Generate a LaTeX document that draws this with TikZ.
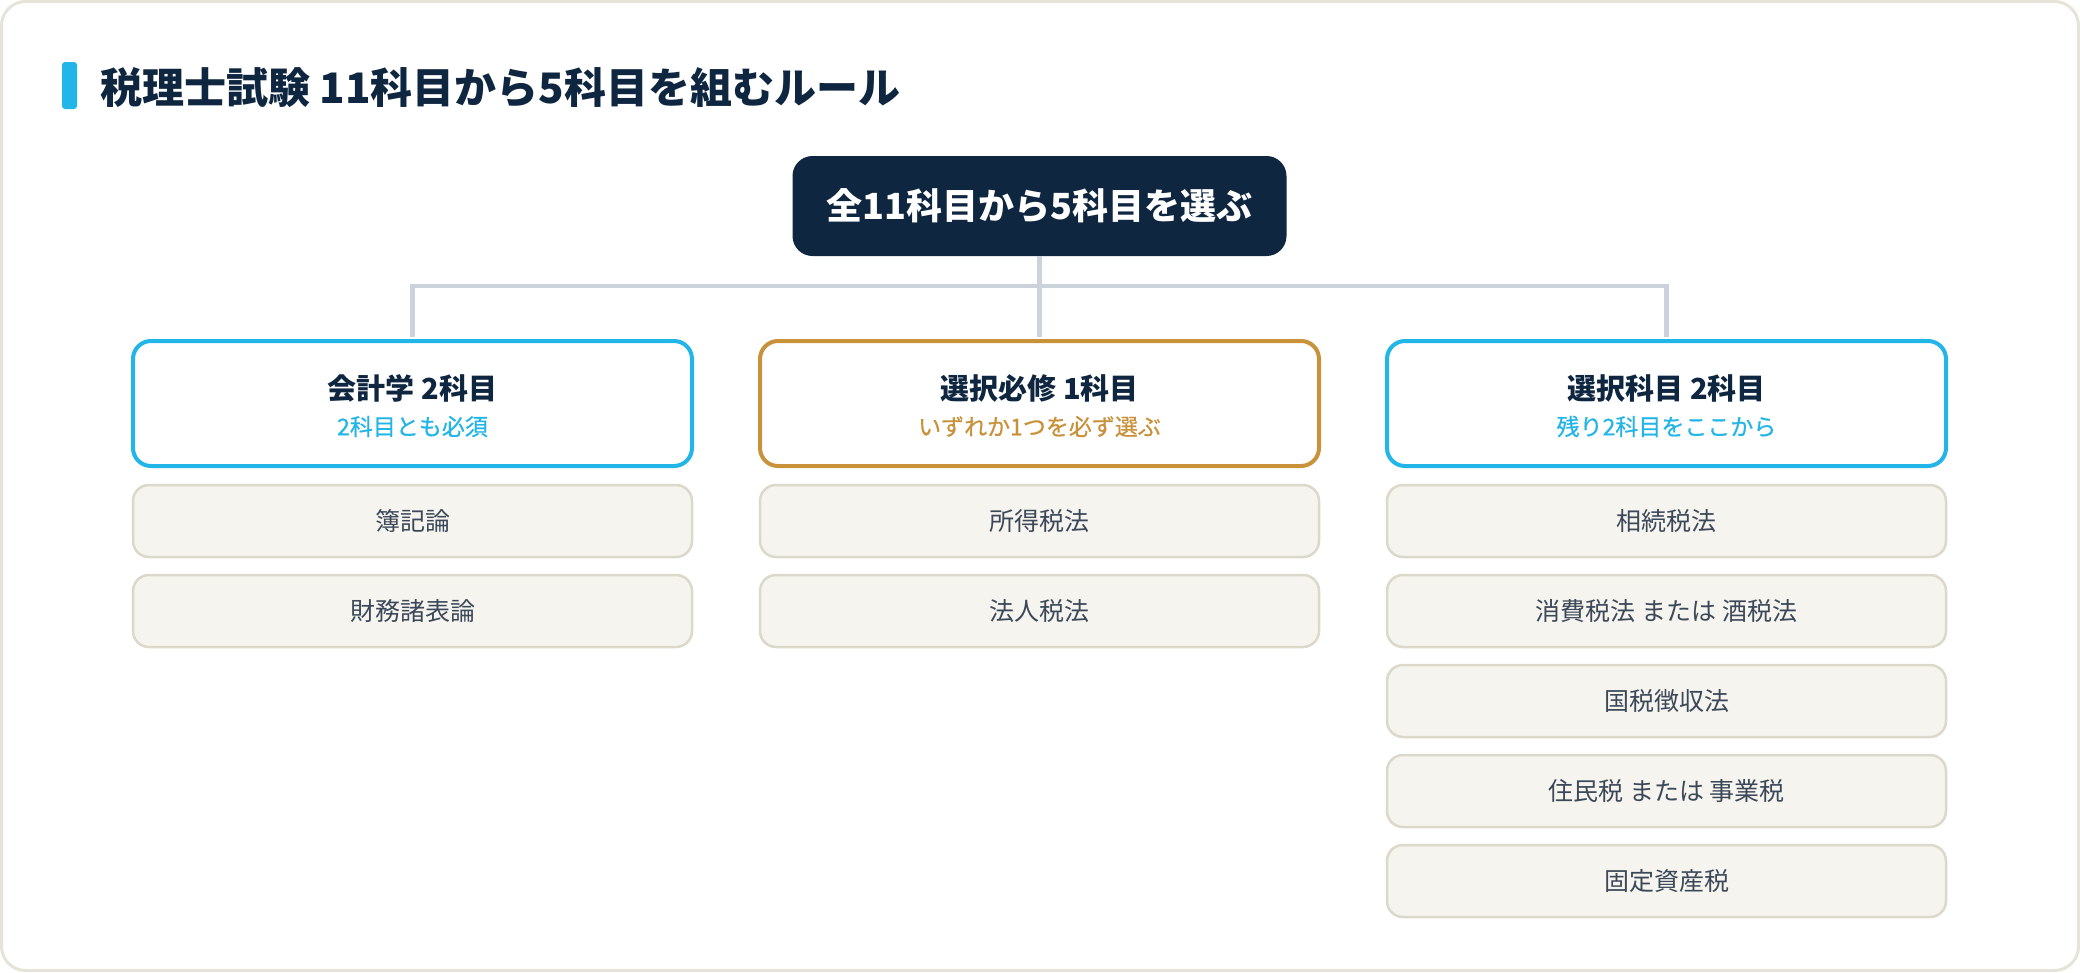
\documentclass[tikz,border=0pt]{standalone}
\usepackage{fontspec}
\setmainfont{Noto Sans CJK JP}
\newfontfamily\mediumFont[FakeBold=0.6]{Noto Sans CJK JP}
\usetikzlibrary{positioning}
\tikzstyle{board} = [x = 1pt, y = -1pt]
\definecolor{navyColor}{HTML}{0F2640}
\definecolor{cyanColor}{HTML}{22B5E8}
\definecolor{goldColor}{HTML}{C8913A}
\definecolor{itemFill}{HTML}{F6F4EF}
\definecolor{itemBorder}{HTML}{DCD8CA}
\definecolor{itemText}{HTML}{3B4858}
\definecolor{busColor}{HTML}{CCD2DB}
\definecolor{cardBorder}{HTML}{E6E3D9}
\tikzstyle{cardStyle} = [draw=cardBorder, fill=white, line width=3pt, rounded corners=24pt]
\tikzstyle{barStyle} = [fill=cyanColor, rounded corners=3pt, minimum width=15pt, minimum height=47pt, inner sep=0pt]
\tikzstyle{headingText} = [font=\fontsize{42}{50}\selectfont\bfseries, text=navyColor, anchor=west, inner sep=0pt]
\tikzstyle{rootStyle} = [fill=navyColor, rounded corners=20pt, minimum width=494pt, minimum height=100pt, inner sep=0pt, text=white, font=\fontsize{36}{43}\selectfont\bfseries]
\tikzstyle{categoryStyle} = [fill=white, line width=4pt, rounded corners=18pt, minimum width=559pt, minimum height=125pt, inner sep=0pt]
\tikzstyle{categoryTitle} = [font=\fontsize{29}{35}\selectfont\bfseries, text=navyColor, inner sep=0pt]
\tikzstyle{categoryNote} = [font=\fontsize{23}{28}\selectfont\mediumFont, inner sep=0pt]
\tikzstyle{itemStyle} = [draw=itemBorder, fill=itemFill, line width=2.5pt, rounded corners=16pt, minimum width=559pt, minimum height=72pt, inner sep=0pt, text=itemText, font=\fontsize{25}{30}\selectfont]
\tikzstyle{busLine} = [draw=busColor, line width=4.5pt]
\newcommand{\categoryBox}[5]{
  \node [categoryStyle, draw=#3] (#1) at (#2, 403.5) {};
  \node [categoryTitle] (#1Title) at ([yshift=15pt]#1.center) {#4};
  \node [categoryNote, text=#3] (#1Note) at ([yshift=-23pt]#1.center) {#5};
}
\newcommand{\subjectList}[3]{
  \foreach \subject [count=\row] in {#3} {
    \pgfmathsetmacro{\rowY}{431 + 90 * \row}
    \node [itemStyle] (#1\row) at (#2, \rowY) {\subject};
  }
}

\begin{document}
\begin{tikzpicture}[board]
  \useasboundingbox (0,0) rectangle (2080,972);
  \draw [cardStyle] (1.5,1.5) rectangle (2078.5,970.5);
  % heading
  \node [barStyle] (titleBar) at (69.5, 85.5) {};
  \node [headingText] (title) at (100, 88) {税理士試験 11科目から5科目を組むルール};
  \node [rootStyle] (root) at (1039.5, 206) {全11科目から5科目を選ぶ};
  % three groups
  \categoryBox{accounting}{412.5}{cyanColor}{会計学 2科目}{2科目とも必須}
  \categoryBox{required}{1039.5}{goldColor}{選択必修 1科目}{いずれか1つを必ず選ぶ}
  \categoryBox{elective}{1666.5}{cyanColor}{選択科目 2科目}{残り2科目をここから}
  \coordinate (junction) at (1039.5, 286);
  \draw [busLine] (root.south) -- (junction);
  \draw [busLine, shorten <=2pt, shorten >=2pt] (accounting.north) |- (junction) -| (elective.north);
  \draw [busLine, shorten >=2pt] (junction) -- (required.north);
  % subjects
  \subjectList{acc}{412.5}{簿記論, 財務諸表論}
  \subjectList{req}{1039.5}{所得税法, 法人税法}
  \subjectList{ele}{1666.5}{相続税法, 消費税法 または 酒税法, 国税徴収法, 住民税 または 事業税, 固定資産税}
\end{tikzpicture}
\end{document}
